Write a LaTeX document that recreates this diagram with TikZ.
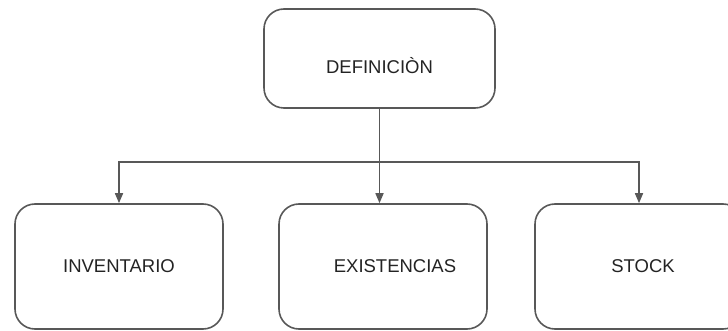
\documentclass[tikz,border=0pt]{standalone}
\usepackage{fontspec}
\setmainfont{Liberation Sans}
\usepackage{xcolor}
\usetikzlibrary{arrows.meta, positioning}
\definecolor{linegray}{RGB}{88,88,88}
\definecolor{textgray}{RGB}{35,35,35}

\begin{document}
\begin{tikzpicture}[x=1pt, y=-1pt, >={Triangle[length=10pt, width=8pt]},
        every node/.style={font=\fontsize{18.5}{22}\selectfont, text=textgray},
        box/.style={draw=linegray, line width=1.6pt, rounded corners=20pt, minimum width=208pt, minimum height=125pt}]
        \clip (0,0) rectangle (728,331);
        \node[box, minimum width=231pt, minimum height=99pt, text height=31pt, text depth=0pt] (D) at (379.5,58.5) {DEFINICIÒN};
        \node[box] (I) at (119,266.5) {INVENTARIO};
        \node[box] (E) at (383,266.5) {\hspace*{24pt}EXISTENCIAS};
        \node[box] (S) at (639,266.5) {\hspace*{8pt}STOCK};
        \coordinate (split) at (379.5,162);

        \draw[->, linegray, line width=1.6pt] (D.south) -- (D.south |- E.north);
        \draw[->, linegray, line width=1.6pt] (split) -| (I.north);
        \draw[->, linegray, line width=1.6pt] (split) -| (S.north);
    \end{tikzpicture}
\end{document}
